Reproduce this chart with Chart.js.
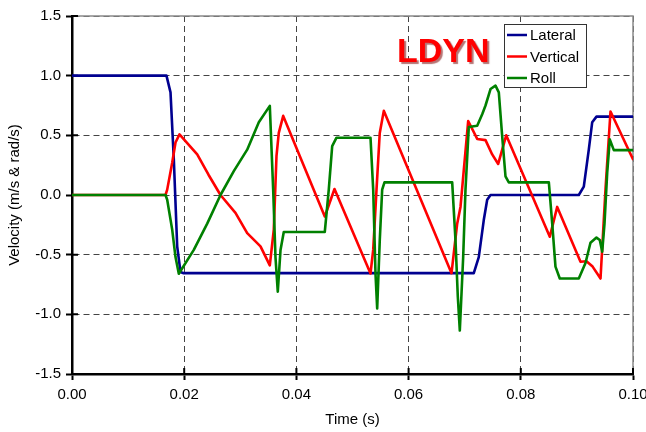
<!DOCTYPE html>
<html>
<head>
<meta charset="utf-8">
<script src="https://cdn.jsdelivr.net/npm/chart.js@4/dist/chart.umd.min.js"></script>
<style>
  html, body { margin: 0; padding: 0; background: #fff; }
  #wrap { width: 646px; height: 432px; position: relative; }
</style>
</head>
<body>
<div id="wrap"><canvas id="velocityChart"></canvas></div>
<script>
// time (s) and velocity values, one pair of arrays per series
const lateralT = [0, 0.01684, 0.01756, 0.01815, 0.01875, 0.01934, 0.0199, 0.07162, 0.07251, 0.0734, 0.07401, 0.0746,
  0.09034, 0.09123, 0.09212, 0.09273, 0.09349, 0.1];
const lateralV = [1.0, 1.0, 0.86, 0.30, -0.43, -0.645, -0.655, -0.655, -0.52, -0.21, -0.04, 0,
  0, 0.07, 0.38, 0.61, 0.657, 0.657];

const verticalT = [0, 0.01667, 0.01697, 0.01786, 0.01845, 0.01916, 0.02232, 0.02433, 0.02647, 0.02914, 0.03123, 0.0336,
  0.03526, 0.03597, 0.03645, 0.03686, 0.03765, 0.04506, 0.04679, 0.05321, 0.05369, 0.05428, 0.05486, 0.05558,
  0.06765, 0.06866, 0.06925, 0.07062, 0.07223, 0.07371, 0.0749, 0.07597, 0.0774, 0.08517, 0.08649, 0.09064,
  0.0917, 0.0928, 0.09421, 0.0951, 0.09599, 0.1];
const verticalV = [0, 0, 0.045, 0.27, 0.44, 0.508, 0.34, 0.17, 0, -0.15, -0.32, -0.43,
  -0.59, -0.29, 0.325, 0.52, 0.663, -0.18, 0.05, -0.658, -0.46, 0.045, 0.52, 0.705,
  -0.655, -0.24, -0.10, 0.62, 0.47, 0.46, 0.34, 0.26, 0.50, -0.35, -0.10, -0.56,
  -0.555, -0.60, -0.70, 0.05, 0.70, 0.30];

const rollT = [0, 0.01667, 0.01697, 0.01786, 0.01845, 0.01904, 0.02171, 0.0241, 0.02647, 0.02884, 0.03123, 0.0333,
  0.03526, 0.03586, 0.03627, 0.03668, 0.03717, 0.03775, 0.04506, 0.04577, 0.04638, 0.04715, 0.05321, 0.05369,
  0.0541, 0.0544, 0.05486, 0.05529, 0.0557, 0.06777, 0.06836, 0.06877, 0.06913, 0.06973, 0.07014, 0.07073,
  0.07223, 0.07312, 0.07371, 0.0746, 0.07549, 0.07608, 0.07668, 0.07727, 0.07786, 0.085, 0.0856, 0.08618,
  0.08695, 0.09034, 0.09153, 0.09242, 0.09349, 0.09408, 0.09451, 0.09492, 0.0954, 0.09586, 0.09658, 0.1];
const rollV = [0, 0, -0.04, -0.29, -0.52, -0.66, -0.46, -0.24, 0, 0.2, 0.38, 0.61,
  0.747, 0.045, -0.52, -0.81, -0.46, -0.31, -0.31, 0.045, 0.41, 0.48, 0.48, 0.045,
  -0.66, -0.95, -0.38, 0.045, 0.106, 0.106, -0.38, -0.85, -1.136, -0.52, 0.045, 0.57,
  0.58, 0.677, 0.75, 0.888, 0.916, 0.86, 0.494, 0.157, 0.106, 0.106, -0.24, -0.6,
  -0.70, -0.70, -0.57, -0.40, -0.357, -0.377, -0.475, -0.24, 0.185, 0.466, 0.376, 0.376];

const seriesNames = ['Lateral', 'Vertical', 'Roll'];
const xTicks = [0, 0.02, 0.04, 0.06, 0.08, 0.1];
const yTicks = [-1.5, -1.0, -0.5, 0.0, 0.5, 1.0, 1.5];

const FONT = '"Liberation Sans", Arial, sans-serif';

function pairs(ts, vs) {
  return ts.map((t, i) => ({ x: t, y: vs[i] }));
}

// gray frame on top/right, ticks poking into the plot, LDYN label and boxed legend
const decorPlugin = {
  id: 'decor',
  beforeDatasetsDraw(chart) {
    const { ctx, chartArea: a, scales } = chart;
    ctx.save();
    ctx.strokeStyle = '#8a8a8a';
    ctx.lineWidth = 1.5;
    ctx.beginPath();
    ctx.moveTo(a.left, a.top);
    ctx.lineTo(a.right, a.top);
    ctx.lineTo(a.right, a.bottom);
    ctx.stroke();

    ctx.strokeStyle = '#000';
    ctx.lineWidth = 2;
    ctx.beginPath();
    xTicks.forEach(t => {
      const px = scales.x.getPixelForValue(t);
      ctx.moveTo(px, a.bottom);
      ctx.lineTo(px, a.bottom - 6);
    });
    yTicks.forEach(v => {
      const py = scales.y.getPixelForValue(v);
      ctx.moveTo(a.left, py);
      ctx.lineTo(a.left + 6, py);
    });
    ctx.stroke();
    ctx.restore();
  },
  afterDraw(chart) {
    const { ctx } = chart;
    ctx.save();
    // big title inside plot
    ctx.font = 'bold 34px ' + FONT;
    ctx.textBaseline = 'alphabetic';
    ctx.shadowColor = 'rgba(120,0,0,0.55)';
    ctx.shadowOffsetX = 2;
    ctx.shadowOffsetY = 2;
    ctx.shadowBlur = 1;
    ctx.fillStyle = '#ff0000';
    ctx.fillText('LDYN', 397, 62);
    ctx.restore();

    // legend box
    ctx.save();
    const bx = 504.5, by = 24.5, bw = 82, bh = 63;
    ctx.fillStyle = '#fff';
    ctx.fillRect(bx, by, bw, bh);
    ctx.strokeStyle = '#333';
    ctx.lineWidth = 1;
    ctx.strokeRect(bx, by, bw, bh);
    ctx.font = '15px ' + FONT;
    ctx.textBaseline = 'middle';
    chart.data.datasets.forEach((ds, i) => {
      const cy = 35 + i * 21.5;
      ctx.strokeStyle = ds.borderColor;
      ctx.lineWidth = 2.5;
      ctx.beginPath();
      ctx.moveTo(507, cy);
      ctx.lineTo(527, cy);
      ctx.stroke();
      ctx.fillStyle = '#000';
      ctx.fillText(ds.label, 530, cy + 1);
    });
    ctx.restore();
  }
};

const ctx = document.getElementById('velocityChart').getContext('2d');
new Chart(ctx, {
  type: 'line',
  data: {
    datasets: [
      { label: seriesNames[0], data: pairs(lateralT, lateralV), borderColor: '#000090', order: 3 },
      { label: seriesNames[1], data: pairs(verticalT, verticalV), borderColor: '#ff0000', order: 2 },
      { label: seriesNames[2], data: pairs(rollT, rollV), borderColor: '#008000', order: 1 }
    ]
  },
  options: {
    responsive: true,
    maintainAspectRatio: false,
    animation: false,
    parsing: false,
    layout: { padding: { top: 16, right: 13, left: 0, bottom: 0 } },
    elements: {
      line: { borderWidth: 2.6, tension: 0, borderJoinStyle: 'round', borderCapStyle: 'round', fill: false },
      point: { radius: 0, hitRadius: 0 }
    },
    plugins: {
      legend: { display: false },
      tooltip: { enabled: false }
    },
    scales: {
      x: {
        type: 'linear',
        min: 0,
        max: 0.1,
        afterBuildTicks: s => { s.ticks = xTicks.map(v => ({ value: v })); },
        afterFit: s => { s.height = 58; s.paddingLeft = 0; s.paddingRight = 0; },
        ticks: {
          color: '#000',
          font: { family: FONT, size: 15 },
          padding: 6,
          maxRotation: 0,
          callback: v => v.toFixed(2)
        },
        grid: {
          color: '#444',
          lineWidth: 1,
          tickColor: '#000',
          tickLength: 6,
          tickWidth: 2
        },
        border: { color: '#000', width: 2.5, dash: [6, 4] },
        title: {
          display: true,
          text: 'Time (s)',
          color: '#000',
          font: { family: FONT, size: 15 },
          padding: { top: 2, bottom: 3 }
        }
      },
      y: {
        type: 'linear',
        min: -1.5,
        max: 1.5,
        afterBuildTicks: s => { s.ticks = yTicks.map(v => ({ value: v })); },
        afterFit: s => { s.width = 72; s.paddingTop = 0; s.paddingBottom = 0; },
        ticks: {
          color: '#000',
          font: { family: FONT, size: 15 },
          padding: 5,
          callback: v => v.toFixed(1)
        },
        grid: {
          color: '#444',
          lineWidth: 1,
          tickColor: '#000',
          tickLength: 6,
          tickWidth: 2
        },
        border: { color: '#000', width: 2.5, dash: [6, 4] },
        title: {
          display: true,
          text: 'Velocity (m/s & rad/s)',
          color: '#000',
          font: { family: FONT, size: 15 },
          padding: { top: 6, bottom: 0 }
        }
      }
    }
  },
  plugins: [decorPlugin]
});
</script>
</body>
</html>
